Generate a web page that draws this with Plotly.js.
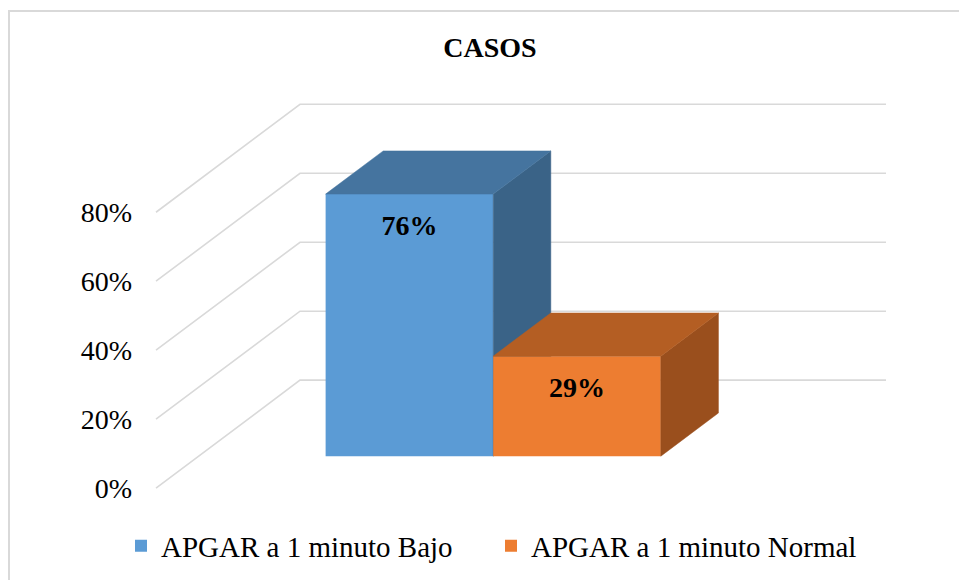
<!DOCTYPE html>
<html>
<head>
<meta charset="utf-8">
<script src="https://cdn.plot.ly/plotly-3.0.1.min.js"></script>
<style>
  html, body { margin: 0; padding: 0; overflow: hidden; background: #fff; }
  #wrap { position: relative; width: 959px; height: 580px; overflow: hidden; }
  #frame { position: absolute; left: 8px; top: 10px; width: 1000px; height: 700px;
           border-top: 2px solid #d9d9d9; border-left: 2px solid #d9d9d9; box-sizing: border-box; pointer-events: none; z-index: 5; }
  #chart { position: absolute; left: 0; top: 0; width: 959px; height: 580px; }
</style>
</head>
<body>
<div id="wrap">
  <div id="chart"></div>
  <div id="frame"></div>
</div>
<script>
// ---- data ----
const titleText = 'CASOS';
const seriesNames = ['APGAR a 1 minuto Bajo', 'APGAR a 1 minuto Normal'];
const values = [76, 29];
const valueLabels = ['76%', '29%'];
const tickVals = [0, 20, 40, 60, 80];
const tickText = ['0%', '20%', '40%', '60%', '80%'];

// ---- style ----
const frontColors = ['#5B9BD5', '#ED7D31'];
const topColors = ['#45749F', '#B45E23'];
const sideColors = ['#3A6387', '#9A4F1D'];
const wallColor = '#d9d9d9';
const FONT = 'Liberation Serif, Times New Roman, serif';

// ---- oblique 3D geometry (x in plot units, y in percent) ----
const DEPTH_X = 144;     // full floor depth, x units
const DEPTH_Y = 31.3;    // full floor depth, percent units
const Z0 = 0.296;        // bar front depth fraction
const DZ = 0.40;         // bar depth fraction
const BAR_X0 = 127;      // first bar left edge at depth 0
const BAR_W = 167.6;     // bar width
const WALL_X1 = 730;     // back wall right end
const LABEL_DROP = 9.7;  // label below bar top (percent units)
const X_RANGE = [-4, 734];
const Y_RANGE = [-2, 114];

function P(x, y, z) { return [x + z * DEPTH_X, y + z * DEPTH_Y]; }

const traces = [];

// walls (side wall diagonals + back wall horizontals)
const wx = [], wy = [];
tickVals.forEach(t => {
  const a = P(0, t, 0), b = P(0, t, 1), c = P(WALL_X1 - DEPTH_X, t, 1);
  wx.push(a[0], b[0], c[0], null);
  wy.push(a[1], b[1], c[1], null);
});
traces.push({
  type: 'scatter', mode: 'lines', x: wx, y: wy, xaxis: 'x', yaxis: 'y',
  line: { color: wallColor, width: 1.6 }, showlegend: false, hoverinfo: 'skip'
});

values.forEach((v, i) => {
  const ax = 'x' + (i + 2), ay = 'y' + (i + 2);
  const xl = BAR_X0 + i * BAR_W, xr = xl + BAR_W;
  const z1 = Z0 + DZ;
  // front face
  traces.push({
    type: 'bar', name: seriesNames[i], x: [xl + BAR_W / 2 + Z0 * DEPTH_X], y: [v],
    base: [Z0 * DEPTH_Y], width: [BAR_W], xaxis: ax, yaxis: ay,
    marker: { color: frontColors[i], line: { width: 0 } }, hoverinfo: 'skip', textinfo: 'none'
  });
  // side face
  const s = [P(xr, 0, Z0), P(xr, v, Z0), P(xr, v, z1), P(xr, 0, z1), P(xr, 0, Z0)];
  traces.push({
    type: 'scatter', mode: 'lines', x: s.map(p => p[0]), y: s.map(p => p[1]), xaxis: ax, yaxis: ay,
    fill: 'toself', fillcolor: sideColors[i], line: { color: sideColors[i], width: 0.5 },
    showlegend: false, hoverinfo: 'skip'
  });
  // top face
  const t = [P(xl, v, Z0), P(xl, v, z1), P(xr, v, z1), P(xr, v, Z0), P(xl, v, Z0)];
  traces.push({
    type: 'scatter', mode: 'lines', x: t.map(p => p[0]), y: t.map(p => p[1]), xaxis: ax, yaxis: ay,
    fill: 'toself', fillcolor: topColors[i], line: { color: topColors[i], width: 0.5 },
    showlegend: false, hoverinfo: 'skip'
  });
});

// data labels
const lastAx = values.length + 1;
traces.push({
  type: 'scatter', mode: 'text', xaxis: 'x' + lastAx, yaxis: 'y' + lastAx,
  x: values.map((v, i) => BAR_X0 + i * BAR_W + BAR_W / 2 + Z0 * DEPTH_X),
  y: values.map(v => v + Z0 * DEPTH_Y - LABEL_DROP),
  text: valueLabels, textposition: 'middle center',
  textfont: { family: FONT, size: 28, color: '#000', weight: 'bold' },
  showlegend: false, hoverinfo: 'skip', cliponaxis: false
});

const hiddenX = { range: X_RANGE, visible: false, fixedrange: true };
const hiddenY = { range: Y_RANGE, visible: false, fixedrange: true };

const layout = {
  width: 959, height: 580,
  margin: { l: 152, r: 69, t: 94.7, b: 85.1, pad: 0 },
  paper_bgcolor: '#ffffff', plot_bgcolor: 'rgba(0,0,0,0)',
  hovermode: false, barmode: 'overlay',
  font: { family: FONT },
  title: {
    text: '<b>' + titleText + '</b>', xref: 'container', yref: 'container',
    x: 490 / 959, y: 1 - 47 / 580, xanchor: 'center', yanchor: 'middle',
    font: { family: FONT, size: 28, color: '#000' }
  },
  xaxis: { range: X_RANGE, visible: false, fixedrange: true },
  yaxis: {
    range: Y_RANGE, fixedrange: true, showgrid: false, zeroline: false, showline: false,
    tickmode: 'array', tickvals: tickVals, ticktext: tickText, ticks: '',
    ticklabelstandoff: 19,
    tickfont: { family: FONT, size: 28, color: '#000' }
  },
  xaxis2: Object.assign({ overlaying: 'x' }, hiddenX),
  yaxis2: Object.assign({ overlaying: 'y' }, hiddenY),
  xaxis3: Object.assign({ overlaying: 'x' }, hiddenX),
  yaxis3: Object.assign({ overlaying: 'y' }, hiddenY),
  showlegend: true,
  legend: {
    orientation: 'h', xref: 'container', yref: 'container',
    x: 121 / 959, y: 1 - 546 / 580, xanchor: 'left', yanchor: 'middle',
    font: { family: FONT, size: 29, color: '#000' },
    bgcolor: 'rgba(0,0,0,0)', traceorder: 'normal',
    entrywidth: 325, entrywidthmode: 'pixels'
  }
};

Plotly.newPlot('chart', traces, layout, { displayModeBar: false, staticPlot: true });
</script>
</body>
</html>
